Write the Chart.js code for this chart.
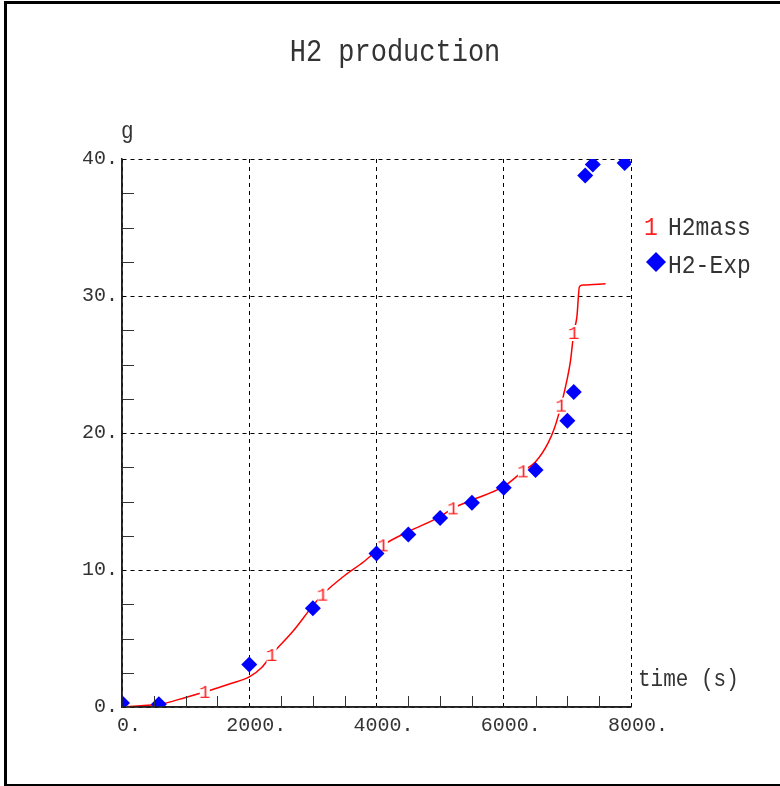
<!DOCTYPE html>
<html>
<head>
<meta charset="utf-8">
<style>
  html, body { margin: 0; padding: 0; background: #fff; }
  canvas { display: block; }
</style>
<script src="https://cdn.jsdelivr.net/npm/chart.js@4/dist/chart.umd.min.js"></script>
</head>
<body>
<canvas id="grafico" width="780" height="786"></canvas>
<script>
  /* ── dados ── */
  const expTime = [0, 580, 2000, 3000, 4000, 4500, 5000, 5500, 6000, 6500, 7000, 7100, 7280, 7400, 7900];
  const expMass = [0.3, 0.2, 3.1, 7.2, 11.2, 12.6, 13.8, 14.9, 16.0, 17.3, 20.9, 23.0, 38.8, 39.6, 39.7];

  const simTime = [0, 300, 600, 1000, 1300, 1700, 2000, 2200, 2350, 2700, 3000, 3150, 3500, 3800, 4000, 4100,
                   4500, 5000, 5200, 5500, 6000, 6300, 6500, 6700, 6800, 6900, 7000, 7050, 7100, 7150, 7190, 7250, 7600];
  const simMass = [0, 0.1, 0.2, 0.7, 1.1, 1.7, 2.2, 2.9, 3.8, 5.6, 7.4, 8.2, 9.6, 10.6, 11.4, 11.8,
                   12.8, 13.9, 14.5, 15.1, 16.1, 17.2, 17.9, 19.3, 20.4, 22.0, 24.0, 25.3, 27.3, 28.5, 30.7, 30.8, 30.9];
  const markerTimes = [0, 1300, 2350, 3150, 4100, 5200, 6300, 6900, 7100];

  const xTicks = [0, 2000, 4000, 6000, 8000];
  const yTicks = [0, 10, 20, 30, 40];

  const FONT = 'Liberation Mono, DejaVu Sans Mono, monospace';
  const TXT = '#333';

  /* ── marcador "1" ── */
  function criarMarcador() {
    const c = document.createElement('canvas');
    c.width = 12; c.height = 18;
    const g = c.getContext('2d');
    g.fillStyle = '#fff';
    g.fillRect(1, 1, 10, 16);
    g.fillStyle = '#ff2020';
    g.font = '19px ' + FONT;
    g.textAlign = 'center';
    g.textBaseline = 'middle';
    g.fillText('1', 6, 10);
    return c;
  }
  const marcador = criarMarcador();

  function textoAlto(ctx, txt, x, y, sy) {
    ctx.save();
    ctx.translate(x, y);
    ctx.scale(1, sy);
    ctx.fillText(txt, 0, 0);
    ctx.restore();
  }

  /* ── extras: moldura, título, rótulos, legenda, ticks menores ── */
  const extras = {
    id: 'extras',
    beforeDraw(chart) {
      const ctx = chart.ctx;
      ctx.save();
      ctx.fillStyle = '#fff';
      ctx.fillRect(0, 0, chart.width, chart.height);
      ctx.restore();
    },
    afterDraw(chart) {
      const { ctx, chartArea: a } = chart;
      const xs = chart.scales.x, ys = chart.scales.y;
      ctx.save();

      // ticks menores para dentro
      ctx.strokeStyle = '#333';
      ctx.lineWidth = 1;
      ctx.beginPath();
      xs.ticks.forEach(t => {
        if (xTicks.includes(t.value)) return;
        const px = Math.round(xs.getPixelForValue(t.value)) + 0.5;
        ctx.moveTo(px, a.bottom);
        ctx.lineTo(px, a.bottom - 11);
      });
      ys.ticks.forEach(t => {
        if (yTicks.includes(t.value)) return;
        const py = Math.round(ys.getPixelForValue(t.value)) + 0.5;
        ctx.moveTo(a.left, py);
        ctx.lineTo(a.left + 12, py);
      });
      ctx.stroke();

      // eixos sólidos
      ctx.strokeStyle = '#222';
      ctx.lineWidth = 1.5;
      ctx.beginPath();
      ctx.moveTo(a.left, a.top);
      ctx.lineTo(a.left, a.bottom);
      ctx.lineTo(a.right, a.bottom);
      ctx.stroke();

      // moldura
      ctx.strokeStyle = '#000';
      ctx.lineWidth = 3;
      ctx.strokeRect(5.5, 2.5, 800, 783);

      // título
      ctx.fillStyle = TXT;
      ctx.textAlign = 'center';
      ctx.textBaseline = 'middle';
      ctx.font = '27px ' + FONT;
      textoAlto(ctx, 'H2 production', 395, 53, 1.18);

      // rótulos dos eixos
      ctx.textAlign = 'left';
      ctx.textBaseline = 'alphabetic';
      ctx.font = '21px ' + FONT;
      textoAlto(ctx, 'g', a.left - 1, a.top - 21, 1.1);
      textoAlto(ctx, 'time (s)', a.right + 7, a.bottom - 21, 1.1);

      // legenda
      ctx.font = '23px ' + FONT;
      ctx.textBaseline = 'middle';
      ctx.fillStyle = '#ff2020';
      textoAlto(ctx, '1', 644, 228, 1.12);
      ctx.fillStyle = TXT;
      textoAlto(ctx, 'H2mass', 668, 228, 1.12);
      textoAlto(ctx, 'H2-Exp', 668, 266, 1.12);
      ctx.fillStyle = '#0000ff';
      ctx.beginPath();
      ctx.moveTo(656, 252);
      ctx.lineTo(666, 262);
      ctx.lineTo(656, 272);
      ctx.lineTo(646, 262);
      ctx.closePath();
      ctx.fill();

      ctx.restore();
    }
  };

  new Chart(document.getElementById('grafico'), {
    type: 'scatter',
    data: {
      datasets: [
        {
          label: 'H2-Exp',
          data: expTime.map((t, i) => ({ x: t, y: expMass[i] })),
          pointStyle: 'rectRot',
          pointRadius: 8,
          pointBackgroundColor: '#0000ff',
          pointBorderColor: '#0000ff',
          pointBorderWidth: 0,
          showLine: false,
          clip: 0
        },
        {
          label: 'H2mass',
          data: simTime.map((t, i) => ({ x: t, y: simMass[i] })),
          showLine: true,
          borderColor: '#ff0000',
          borderWidth: 1.5,
          cubicInterpolationMode: 'monotone',
          pointStyle: c => markerTimes.includes(simTime[c.dataIndex]) ? marcador : false,
          pointRadius: c => markerTimes.includes(simTime[c.dataIndex]) ? 2 : 0,
          clip: 0
        }
      ]
    },
    options: {
      responsive: false,
      animation: false,
      events: [],
      layout: { padding: { left: 0, top: 159, right: 149, bottom: 39 } },
      plugins: { legend: { display: false }, tooltip: { enabled: false } },
      scales: {
        x: {
          type: 'linear',
          min: 0, max: 8000,
          afterFit: s => { s.height = 40; },
          ticks: {
            stepSize: 500,
            autoSkip: false,
            maxRotation: 0,
            padding: 7,
            labelOffset: 7,
            color: TXT,
            font: { family: FONT, size: 20 },
            callback: v => xTicks.includes(v) ? v + '.' : ''
          },
          grid: {
            drawTicks: false,
            color: c => xTicks.includes(c.tick.value) ? '#000' : 'rgba(0,0,0,0)',
            lineWidth: 1
          },
          border: { display: true, color: '#222', width: 1.5, dash: [4, 4] }
        },
        y: {
          min: 0, max: 40,
          afterFit: s => { s.width = 122; },
          ticks: {
            stepSize: 2.5,
            autoSkip: false,
            padding: 4,
            color: TXT,
            font: { family: FONT, size: 20 },
            callback: v => yTicks.includes(v) ? v + '.' : ''
          },
          grid: {
            drawTicks: false,
            color: c => yTicks.includes(c.tick.value) ? '#000' : 'rgba(0,0,0,0)',
            lineWidth: 1
          },
          border: { display: true, color: '#222', width: 1.5, dash: [4, 4] }
        }
      }
    },
    plugins: [extras]
  });
</script>
</body>
</html>
